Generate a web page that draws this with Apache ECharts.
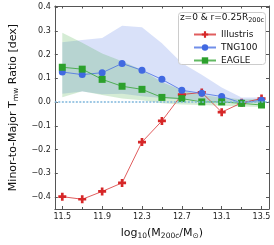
<!DOCTYPE html>
<html><head><meta charset="utf-8">
<script src="https://cdn.jsdelivr.net/npm/echarts@6/dist/echarts.min.js"></script>
<style>html,body{margin:0;padding:0;background:#fff}#c{width:274px;height:245px}</style>
</head><body><div id="c"></div>
<script>
const massBins = [11.5, 11.7, 11.9, 12.1, 12.3, 12.5, 12.7, 12.9, 13.1, 13.3, 13.5];
const illustris = [-0.398, -0.409, -0.376, -0.340, -0.168, -0.079, 0.032, 0.041, -0.042, -0.003, 0.015];
const tng100 = [0.127, 0.116, 0.124, 0.163, 0.134, 0.096, 0.050, 0.037, 0.024, -0.003, 0.008];
const eagle = [0.147, 0.139, 0.096, 0.067, 0.054, 0.020, 0.015, 0.001, 0.001, -0.005, -0.012];
const tngLow = [0.035, 0.045, 0.033, 0.035, 0.025, 0.018, 0.010, 0.005, 0.000, -0.005, -0.005];
const tngHigh = [0.252, 0.262, 0.270, 0.322, 0.315, 0.248, 0.165, 0.115, 0.062, 0.020, 0.020];
const eagleLow = [0.021, 0.046, 0.030, 0.015, 0.008, -0.005, -0.010, -0.012, -0.015, -0.018, -0.020];
const eagleHigh = [0.292, 0.250, 0.205, 0.172, 0.135, 0.085, 0.050, 0.030, 0.020, 0.012, 0.012];
const xMajorTicks = [11.5, 11.9, 12.3, 12.7, 13.1, 13.5];
const xMinorTicks = [11.7, 12.1, 12.5, 12.9, 13.3];
const yTicks = [-0.4, -0.3, -0.2, -0.1, 0.0, 0.1, 0.2, 0.3, 0.4];

const RED = '#d62728', BLUE = '#4169e1', GREEN = '#2ca02c';
const pair = arr => massBins.map((x, i) => [x, arr[i]]);
const band = (lo, hi) => massBins.map((x, i) => [x, lo[i], hi[i]]);
const FONT = 'DejaVu Sans';
const spine = '#555';
const plusPath = 'path://M1,0H2V1H3V2H2V3H1V2H0V1H1Z';

function bandRender(fill) {
  return function (params, api) {
    if (params.dataIndexInside !== 0) return null;
    const n = params.dataInsideLength;
    const top = [], bot = [];
    for (let i = 0; i < n; i++) {
      const x = api.value(0, i);
      top.push(api.coord([x, api.value(2, i)]));
      bot.push(api.coord([x, api.value(1, i)]));
    }
    const pts = top.concat(bot.reverse());
    return {type: 'polygon', shape: {points: pts}, style: {fill: fill}, silent: true};
  };
}

const chart = echarts.init(document.getElementById('c'), null, {renderer: 'canvas'});
const xBase = {type: 'value', min: 11.425, max: 13.575, splitLine: {show: false}};
const yBase = {type: 'value', min: -0.45, max: 0.405, splitLine: {show: false}};
const onZeroOff = {show: true, onZero: false, lineStyle: {color: spine, width: 1}};
chart.setOption({
  animation: false,
  textStyle: {fontFamily: FONT},
  grid: {left: 36, right: 5, top: 6, bottom: 25},
  xAxis: [
    Object.assign({}, xBase, {
      position: 'bottom',
      axisLine: onZeroOff,
      axisTick: {show: true, inside: true, length: 3, customValues: xMajorTicks, lineStyle: {color: spine}},
      axisLabel: {show: true, customValues: xMajorTicks, fontSize: 8, color: '#222', margin: 4, fontFamily: FONT,
        formatter: v => v.toFixed(1)},
      name: '{a|log}{s|10}{a|(M}{s|200c}{a|/M}{s|⊙}{a|)}',
      nameLocation: 'middle', nameGap: 17,
      nameTextStyle: {rich: {
        a: {fontSize: 11, fontFamily: FONT, color: '#111'},
        s: {fontSize: 7.5, fontFamily: FONT, color: '#111', verticalAlign: 'bottom', padding: [6, 0, 0, 0]}
      }}
    }),
    Object.assign({}, xBase, {
      position: 'bottom',
      axisLine: {show: false, onZero: false},
      axisTick: {show: true, inside: true, length: 2, customValues: xMinorTicks, lineStyle: {color: spine}},
      axisLabel: {show: false}
    }),
    Object.assign({}, xBase, {
      position: 'top',
      axisLine: onZeroOff,
      axisTick: {show: true, inside: true, length: 2.5, customValues: xMajorTicks.concat(xMinorTicks), lineStyle: {color: spine}},
      axisLabel: {show: false}
    })
  ],
  yAxis: [
    Object.assign({}, yBase, {
      position: 'left',
      axisLine: onZeroOff,
      axisTick: {show: true, inside: true, length: 3, customValues: yTicks, lineStyle: {color: spine}},
      axisLabel: {show: true, customValues: yTicks, fontSize: 8, color: '#222', margin: 4, fontFamily: FONT,
        formatter: v => (v < -1e-9 ? '\u2212' : '') + Math.abs(v).toFixed(1)},
      name: '{a|Minor-to-Major T}{s|mw}{a| Ratio [dex]}',
      nameLocation: 'middle', nameGap: 26, nameRotate: 90,
      nameTextStyle: {rich: {
        a: {fontSize: 11, fontFamily: FONT, color: '#111'},
        s: {fontSize: 7.5, fontFamily: FONT, color: '#111', verticalAlign: 'bottom', padding: [6, 0, 0, 0]}
      }}
    }),
    Object.assign({}, yBase, {
      position: 'right',
      axisLine: onZeroOff,
      axisTick: {show: true, inside: true, length: 3, customValues: yTicks, lineStyle: {color: spine}},
      axisLabel: {show: false}
    })
  ],
  legend: {
    orient: 'vertical', left: 188, top: 25,
    itemWidth: 22, itemHeight: 8, itemGap: 4,
    data: ['Illustris', 'TNG100', 'EAGLE'],
    textStyle: {fontSize: 9, fontFamily: FONT, color: '#111', lineHeight: 8},
    z: 10
  },
  graphic: [
    {type: 'rect', z: 5, shape: {x: 178.5, y: 12.5, width: 87, height: 52, r: 3},
      style: {fill: 'rgba(255,255,255,0.85)', stroke: '#ccc', lineWidth: 1}},
    {type: 'text', z: 11, x: 222, y: 18, style: {
      text: '{a|z=0 & r=0.25R}{s|200c}', align: 'center', verticalAlign: 'middle',
      rich: {a: {fontSize: 9, fontFamily: FONT, fill: '#111'},
             s: {fontSize: 6.5, fontFamily: FONT, fill: '#111', verticalAlign: 'bottom', padding: [4, 0, 0, 0]}}
    }}
  ],
  series: [
    {name: 'tngBand', type: 'custom', data: band(tngLow, tngHigh), encode: {x: 0, y: [1, 2]},
      renderItem: bandRender('rgba(65,105,225,0.2)'), silent: true, z: 1, clip: true},
    {name: 'eagleBand', type: 'custom', data: band(eagleLow, eagleHigh), encode: {x: 0, y: [1, 2]},
      renderItem: bandRender('rgba(44,160,44,0.2)'), silent: true, z: 1, clip: true},
    {name: 'zero', type: 'line', data: [], silent: true,
      markLine: {symbol: 'none', silent: true, label: {show: false},
        lineStyle: {color: '#7fb6dc', type: [2, 1.5], width: 1.5},
        data: [{yAxis: 0}]}, z: 2},
    {name: 'Illustris', type: 'line', data: pair(illustris), color: RED,
      symbol: plusPath, symbolSize: 8, lineStyle: {width: 1, color: RED, opacity: 0.75}, itemStyle: {color: RED}, z: 4},
    {name: 'TNG100', type: 'line', data: pair(tng100), color: BLUE,
      symbol: 'circle', symbolSize: 7, lineStyle: {width: 1, color: BLUE, opacity: 0.75}, itemStyle: {color: BLUE}, z: 4},
    {name: 'EAGLE', type: 'line', data: pair(eagle), color: GREEN,
      symbol: 'rect', symbolSize: 7, lineStyle: {width: 1, color: GREEN, opacity: 0.75}, itemStyle: {color: GREEN}, z: 4}
  ]
});
</script></body></html>
